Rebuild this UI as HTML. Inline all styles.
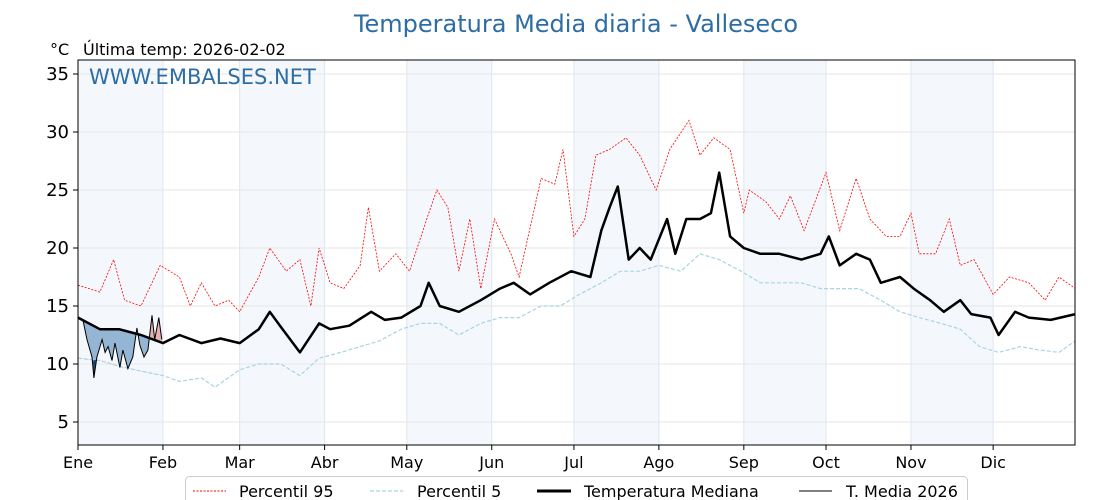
<!DOCTYPE html>
<html><head><meta charset="utf-8">
<style>
html,body{margin:0;padding:0;background:#fff;}
svg{display:block;font-family:"DejaVu Sans","Liberation Sans",sans-serif;}
</style></head>
<body>
<svg id="chart" width="1120" height="500" viewBox="0 0 1120 500" xmlns="http://www.w3.org/2000/svg">
<text x="576" y="32" text-anchor="middle" font-size="24" fill="#2e6da4">Temperatura Media diaria - Valleseco</text>
<text x="50" y="55" font-size="16" fill="#000">°C</text>
<text x="83" y="55" font-size="16" fill="#000">Última temp: 2026-02-02</text>
<g id="bands"></g>
<g id="grid"></g>
<g id="series"></g>
<text x="89" y="84" font-size="21" fill="#2e6da4">WWW.EMBALSES.NET</text>
<rect x="78" y="60" width="997" height="385" fill="none" stroke="#000" stroke-width="1"/>
<g id="axes"></g>
<g>
<rect x="185.5" y="476.5" width="782" height="30" rx="4" fill="#fff" stroke="#ccc"/>
<line x1="193" y1="491" x2="226" y2="491" stroke="red" stroke-width="1" stroke-dasharray="2,1.5"/>
<text x="239" y="497" font-size="16">Percentil 95</text>
<line x1="370" y1="491" x2="403" y2="491" stroke="#a8d4e3" stroke-width="1.2" stroke-dasharray="4,2"/>
<text x="417" y="497" font-size="16">Percentil 5</text>
<line x1="537" y1="491" x2="571" y2="491" stroke="#000" stroke-width="3"/>
<text x="584" y="497" font-size="16">Temperatura Mediana</text>
<line x1="799" y1="491" x2="832" y2="491" stroke="#000" stroke-width="1"/>
<text x="846" y="497" font-size="16">T. Media 2026</text>
</g>
</svg>
<script>
const yTicks=[5,10,15,20,25,30,35];
const months=["Ene","Feb","Mar","Abr","May","Jun","Jul","Ago","Sep","Oct","Nov","Dic"];
const monthStart=[0,31,59,90,120,151,181,212,243,273,304,334];
const medDays=[0,8,15,23,31,37,45,52,59,66,70,74,81,88,92,99,107,112,118,125,128,132,139,147,154,159,165,172,180,187,191,194,197,201,205,209,215,218,222,227,231,234,238,243,249,256,264,271,274,278,284,289,293,300,305,311,316,322,326,333,336,342,347,355,364];
const medVals=[14,13,13,12.5,11.8,12.5,11.8,12.2,11.8,13,14.5,13.2,11,13.5,13,13.3,14.5,13.8,14,15,17,15,14.5,15.5,16.5,17,16,17,18,17.5,21.5,23.5,25.3,19,20,19,22.5,19.5,22.5,22.5,23,26.5,21,20,19.5,19.5,19,19.5,21,18.5,19.5,19,17,17.5,16.5,15.5,14.5,15.5,14.3,14,12.5,14.5,14,13.8,14.3];
const p95Days=[0,8,13,17,23,30,37,41,45,50,55,59,66,70,76,81,85,88,92,97,103,106,110,116,121,128,131,135,139,143,147,152,158,161,169,174,177,181,185,189,194,200,205,211,216,223,227,232,238,243,245,251,256,260,265,269,273,278,284,289,295,300,304,307,313,318,322,327,334,340,347,353,358,364];
const p95Vals=[16.8,16.2,19,15.5,15,18.5,17.5,15,17,15,15.5,14.5,17.5,20,18,19,15,20,17,16.5,18.5,23.5,18,19.5,18,23,25,23.5,18,22.5,16.5,22.5,19.5,17.5,26,25.5,28.5,21,22.5,28,28.5,29.5,28,25,28.5,31,28,29.5,28.5,23,25,24,22.5,24.5,21.5,24,26.5,21.5,26,22.5,21,21,23,19.5,19.5,22.5,18.5,19,16,17.5,17,15.5,17.5,16.5];
const p5Days=[0,4,8,15,23,31,37,45,50,59,66,74,81,88,96,103,110,118,125,132,139,147,154,161,169,176,183,191,198,205,212,220,227,234,242,249,256,264,271,278,285,293,300,307,315,322,329,336,344,351,358,364];
const p5Vals=[10.5,10.4,10.3,9.8,9.4,9,8.5,8.8,8,9.5,10,10,9,10.5,11,11.5,12,13,13.5,13.5,12.5,13.5,14,14,15,15,16,17,18,18,18.5,18,19.5,19,18,17,17,17,16.5,16.5,16.5,15.5,14.5,14,13.5,13,11.5,11,11.5,11.2,11,12];
const t26Days=[0,1.8,3.3,5.1,5.8,6.9,8.8,9.9,11,12.4,13.5,15.3,16.4,18.2,20,21.5,22.6,24.1,25.5,27,28,29.5,30.6];
const t26Vals=[14,13.8,12.1,10.6,8.8,10.6,12.1,11,11.5,10.3,11.8,9.7,11.2,9.6,10.6,13.1,11.6,10.6,11.2,14.2,12.1,14,12.1];

const NS="http://www.w3.org/2000/svg";
const X0=78,X1=1075,Y0=60,Y1=445;
const xs=d=>X0+d*2.74;
const ys=v=>422-(v-5)*11.6;
function mk(tag,attrs,parent){const e=document.createElementNS(NS,tag);for(const k in attrs)e.setAttribute(k,attrs[k]);parent.appendChild(e);return e;}
function interp(days,vals,d){for(let i=0;i<days.length-1;i++){if(d>=days[i]&&d<=days[i+1]){const f=(d-days[i])/(days[i+1]-days[i]);return vals[i]+f*(vals[i+1]-vals[i]);}}return vals[vals.length-1];}
const bands=document.getElementById('bands'),grid=document.getElementById('grid'),ser=document.getElementById('series'),axes=document.getElementById('axes');
monthStart.forEach((m,i)=>{
  const x=xs(m), xe=i<11?xs(monthStart[i+1]):X1;
  if(i%2===0){const r=mk('rect',{x:x,y:Y0,width:xe-x,height:Y1-Y0,fill:'#f4f8fc'},bands);
  
  }
  const l=mk('line',{x1:x,y1:Y0,x2:x,y2:Y1,stroke:'#dde6ee','stroke-width':1},grid);
  
  
  const tk=mk('line',{x1:x,y1:Y1,x2:x,y2:Y1+5,stroke:'#000'},axes);
  
  
  const t=mk('text',{x:x,y:Y1+23,'font-size':16,'text-anchor':'middle'},axes);t.textContent=months[i];
  
  
});
yTicks.forEach(v=>{
  const y=ys(v);
  const l=mk('line',{x1:X0,y1:y,x2:X1,y2:y,stroke:'#e6e6e6','stroke-width':1},grid);
  
  
  const tk=mk('line',{x1:X0-5,y1:y,x2:X0,y2:y,stroke:'#000'},axes);
  
  
  const t=mk('text',{x:X0-9,y:y+6,'font-size':18,'text-anchor':'end'},axes);t.textContent=v;
  
  
});
const pts=(D,V)=>D.map((d,i)=>xs(d).toFixed(1)+','+ys(V[i]).toFixed(1)).join(' ');
const tEnd=t26Days[t26Days.length-1];
const medSegD=[0].concat(medDays.filter(d=>d>0&&d<tEnd)).concat([tEnd]);
const medSegV=medSegD.map(d=>interp(medDays,medVals,d));
const p5SegD=[0].concat(p5Days.filter(d=>d>0&&d<tEnd)).concat([tEnd]);
const p5SegV=p5SegD.map(d=>interp(p5Days,p5Vals,d));
const defs=mk('defs',{},document.getElementById('chart'));
const below=mk('clipPath',{id:'belowMed'},defs);
mk('polygon',{points:pts(medSegD,medSegV)+' '+xs(tEnd)+','+Y1+' '+xs(0)+','+Y1},below);
const above=mk('clipPath',{id:'aboveMed'},defs);
mk('polygon',{points:pts(medSegD,medSegV)+' '+xs(tEnd)+','+Y0+' '+xs(0)+','+Y0},above);
const belowP5=mk('clipPath',{id:'belowP5'},defs);
mk('polygon',{points:pts(p5SegD,p5SegV)+' '+xs(tEnd)+','+Y1+' '+xs(0)+','+Y1},belowP5);
const between=pts(t26Days,t26Vals)+' '+pts(medSegD.slice().reverse(),medSegV.slice().reverse());
const fb=mk('polygon',{points:between,fill:'#94b6d4','fill-rule':'evenodd','clip-path':'url(#belowMed)'},ser);


const fr=mk('polygon',{points:between,fill:'#e8b0b0','fill-rule':'evenodd','clip-path':'url(#aboveMed)'},ser);


const betweenP5=pts(t26Days,t26Vals)+' '+pts(p5SegD.slice().reverse(),p5SegV.slice().reverse());
const fd=mk('polygon',{points:betweenP5,fill:'#1f4e79','fill-rule':'evenodd','clip-path':'url(#belowP5)'},ser);


const l95=mk('polyline',{points:pts(p95Days,p95Vals),fill:'none',stroke:'red','stroke-width':0.8,'stroke-dasharray':'2,1.5'},ser);


const l5=mk('polyline',{points:pts(p5Days,p5Vals),fill:'none',stroke:'#a8d4e3','stroke-width':1.2,'stroke-dasharray':'4,2'},ser);


const lm=mk('polyline',{points:pts(medDays,medVals),fill:'none',stroke:'#000','stroke-width':2.5,'stroke-linejoin':'round'},ser);


const lt=mk('polyline',{points:pts(t26Days,t26Vals),fill:'none',stroke:'#000','stroke-width':1},ser);


</script>
</body></html>
